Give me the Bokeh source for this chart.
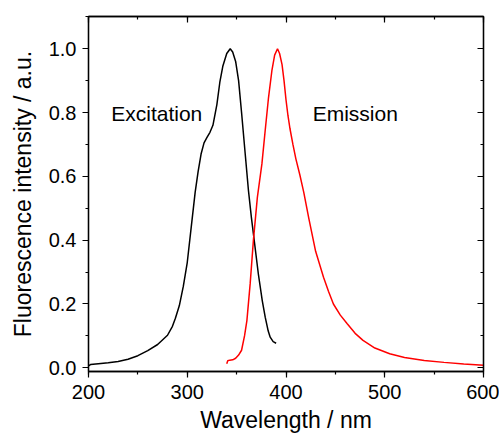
from bokeh.plotting import figure
from bokeh.models import LinearAxis, SingleIntervalTicker, PrintfTickFormatter, Range1d, Label
from bokeh.embed import file_html
from bokeh.resources import INLINE

# Excitation spectrum (black)
exc_wl = [200, 202, 210, 220, 230, 240, 250, 260, 270, 280, 285, 288, 292, 296, 300,
          304, 308, 311, 314, 317, 320, 323, 326, 330, 333, 336, 340, 343.5, 346,
          349, 352, 355, 358.7, 362, 365, 367, 372, 376, 379, 382, 384, 387, 390]
exc_int = [0.006, 0.010, 0.013, 0.016, 0.020, 0.027, 0.038, 0.054, 0.073, 0.102, 0.130,
           0.155, 0.195, 0.255, 0.330, 0.440, 0.550, 0.615, 0.670, 0.705, 0.722, 0.738,
           0.760, 0.825, 0.895, 0.945, 0.985, 1.0, 0.99, 0.96, 0.90, 0.80, 0.67, 0.555,
           0.47, 0.42, 0.294, 0.21, 0.158, 0.115, 0.096, 0.082, 0.077]

# Emission spectrum (red)
em_wl = [340, 341, 343, 346, 349, 352, 355, 358, 360.4, 363.7, 367, 371, 375.6, 378.9,
         382.3, 385.7, 388.5, 391.4, 393.5, 396, 398, 400, 402, 404, 407, 410, 414,
         418, 423, 430, 438, 443, 448, 455, 462, 470, 478, 490, 505, 520, 540, 560,
         580, 600]
em_int = [0.013, 0.022, 0.024, 0.025, 0.030, 0.040, 0.055, 0.10, 0.148, 0.263, 0.40,
          0.534, 0.639, 0.743, 0.847, 0.931, 0.98, 1.0, 0.985, 0.95, 0.90, 0.84, 0.79,
          0.75, 0.70, 0.655, 0.605, 0.55, 0.47, 0.365, 0.284, 0.24, 0.20, 0.165, 0.138,
          0.108, 0.086, 0.062, 0.044, 0.032, 0.023, 0.017, 0.012, 0.008]

x_label = "Wavelength / nm"
y_label = "Fluorescence intensity / a.u."
annotations = [("Excitation", 223, 0.797), ("Emission", 427, 0.797)]

FONT = "Liberation Sans"

p = figure(frame_width=395, frame_height=355, output_backend="svg", toolbar_location=None,
           x_range=Range1d(200, 600), y_range=Range1d(-0.0116, 1.101),
           min_border_left=88, min_border_right=16, min_border_top=16, min_border_bottom=58,
           x_axis_label=x_label, y_axis_label=y_label)
p.grid.visible = False
p.outline_line_color = "black"
p.outline_line_width = 1.3
p.background_fill_color = "white"
p.border_fill_color = "white"

def style(ax, inside=False, labels=True):
    ax.axis_line_width = 1.3
    ax.axis_line_color = "black"
    ax.major_tick_line_width = 1.2
    ax.minor_tick_line_width = 1.2
    if inside:
        ax.major_tick_in, ax.major_tick_out = 6, 0
        ax.minor_tick_in, ax.minor_tick_out = 3, 0
    else:
        ax.major_tick_in, ax.major_tick_out = 0, 6
        ax.minor_tick_in, ax.minor_tick_out = 0, 3
    if labels:
        ax.major_label_text_font = FONT
        ax.major_label_text_font_size = "20px"
        ax.major_label_text_color = "black"
        ax.axis_label_text_font = FONT
        ax.axis_label_text_font_size = "23px"
        ax.axis_label_text_font_style = "normal"
        ax.axis_label_text_color = "black"
    else:
        ax.major_label_text_font_size = "0px"
        ax.major_label_text_color = None

xt = SingleIntervalTicker(interval=100, num_minor_ticks=2)
yt = SingleIntervalTicker(interval=0.2, num_minor_ticks=2)

p.xaxis.ticker = xt
p.yaxis.ticker = yt
p.yaxis.formatter = PrintfTickFormatter(format="%.1f")
for ax in p.xaxis:
    style(ax)
    ax.major_label_standoff = 7
    ax.axis_label_standoff = 5
for ax in p.yaxis:
    style(ax)
    ax.major_label_standoff = 6
    ax.axis_label_standoff = 10

top = LinearAxis(ticker=SingleIntervalTicker(interval=100, num_minor_ticks=2))
style(top, inside=True, labels=False)
p.add_layout(top, "above")
right = LinearAxis(ticker=SingleIntervalTicker(interval=0.2, num_minor_ticks=2))
style(right, inside=True, labels=False)
p.add_layout(right, "right")

p.line(exc_wl, exc_int, line_color="black", line_width=1.5)
p.line(em_wl, em_int, line_color="red", line_width=1.5)

for txt, x, y in annotations:
    p.add_layout(Label(x=x, y=y, text=txt, text_font=FONT, text_font_size="21px",
                       text_color="black", text_baseline="alphabetic"))

open("out.html", "w").write(file_html(p, INLINE))
